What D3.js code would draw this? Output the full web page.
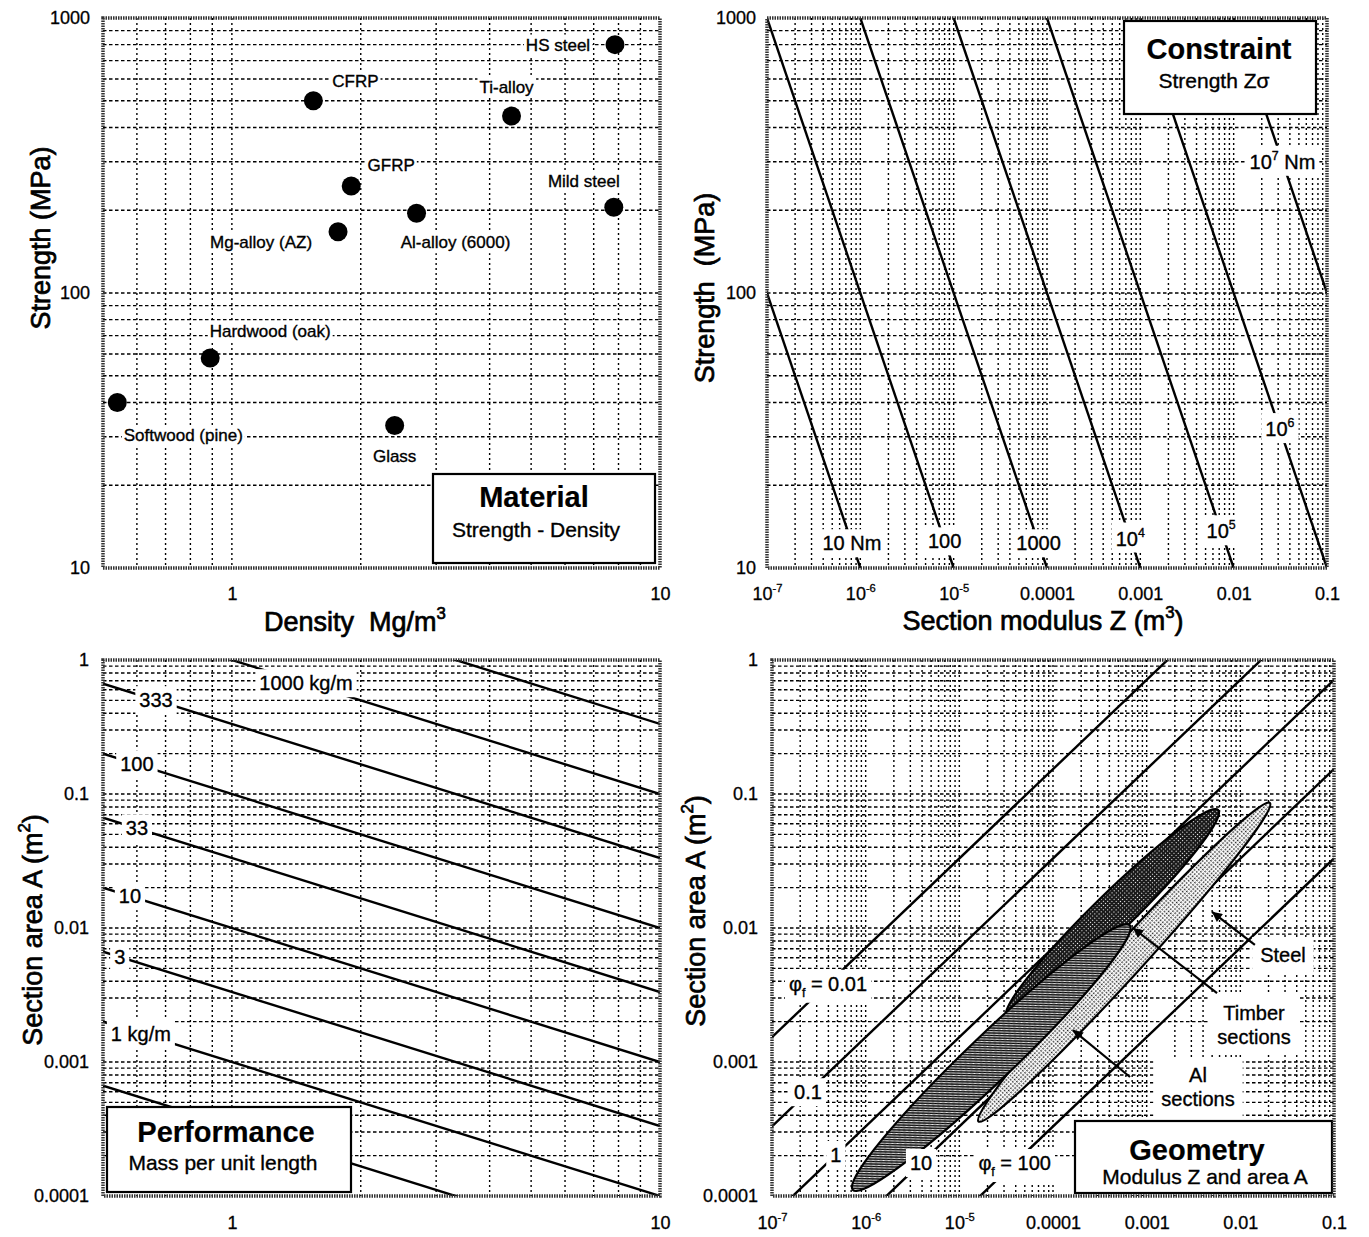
<!DOCTYPE html>
<html>
<head>
<meta charset="utf-8">
<script src="https://cdn.jsdelivr.net/npm/d3@7"></script>
<style>
  body { margin: 0; background: #fff; }
  svg { display: block; }
</style>
</head>
<body>
<svg id="chart" width="1369" height="1237"></svg>
<script>
// ---------- data ----------
// panel 1: material strength vs density
const materials = ["HS steel", "CFRP", "Ti-alloy", "GFRP", "Mild steel", "Al-alloy (6000)",
                   "Mg-alloy (AZ)", "Hardwood (oak)", "Softwood (pine)", "Glass"];
const density = [7.85, 1.55, 4.5, 1.9, 7.8, 2.7, 1.77, 0.89, 0.54, 2.4];     // Mg/m3
const strength = [800, 500, 440, 245, 205, 195, 167, 58, 40, 33];            // MPa

// panel 2: constant bending moment lines M = Z * sigma
const momentVals = [10, 100, 1000, 1e4, 1e5, 1e6, 1e7];                      // Nm
const momentLabels = ["10 Nm", "100", "1000", "10^{4}", "10^{5}", "10^{6}", "10^{7} Nm"];
const momentLabelStrength = [12.3, 12.5, 12.3, 12.8, 13.6, 32, 300];         // where label sits

// panel 3: mass per unit length m = A * rho
const massVals = [0.333, 1, 3.33, 10, 33.3, 100, 333, 1000, 3333];           // kg/m
const massLabels = [null, "1 kg/m", "3", "10", "33", "100", "333", "1000 kg/m", null];
const massLabelDensity = [null, 0.613, 0.547, 0.578, 0.6, 0.6, 0.665, 1.49, null];

// panel 4: shape factor lines and section families
const shapeVals = [0.01, 0.1, 1, 10, 100];
const shapeLabels = ["φ_{f} = 0.01", "0.1", "1", "10", "φ_{f} = 100"];
const shapeLabelZ = [3.96e-7, 2.42e-7, 4.8e-7, 3.9e-6, 3.9e-5];

const regionNames = ["Steel", "Timber sections", "Al sections"];
const regionZ = [[1.6e-5, 0.0207], [3.2e-5, 5.8e-3], [7.3e-7, 6.6e-4]];
const regionA = [[3.6e-4, 0.0857], [2.17e-3, 0.076], [1.11e-4, 0.0105]];
const regionThickness = [0.075, 0.13, 0.12];   // minor / major axis
const regionLabelZ = [0.0285, 0.014, 3.53e-3];
const regionLabelA = [6.29e-3, 1.89e-3, 6.5e-4];
const arrowFromZ = [0.0143, 5.64e-3, 6.64e-4];
const arrowFromA = [7.47e-3, 3.27e-3, 7.73e-4];
const arrowToZ = [4.98e-3, 7.15e-4, 1.63e-4];
const arrowToA = [0.0132, 0.01, 1.73e-3];

// ticks
const densityTicks = [1, 10];
const densityTickLabels = ["1", "10"];
const strengthTicks = [10, 100, 1000];
const strengthTickLabels = ["10", "100", "1000"];
const modulusTicks = [1e-7, 1e-6, 1e-5, 1e-4, 1e-3, 1e-2, 1e-1];
const modulusTickLabels = ["10^{-7}", "10^{-6}", "10^{-5}", "0.0001", "0.001", "0.01", "0.1"];
const areaTicks = [1e-4, 1e-3, 1e-2, 0.1, 1];
const areaTickLabels = ["0.0001", "0.001", "0.01", "0.1", "1"];

// ---------- setup ----------
const FONT = "'Liberation Sans', Arial, Helvetica, sans-serif";
const svg = d3.select("#chart").attr("font-family", FONT);
const defs = svg.append("defs");

// fills for the section families
const pSteel = defs.append("pattern").attr("id", "pSteel").attr("width", 3).attr("height", 3)
  .attr("patternUnits", "userSpaceOnUse");
pSteel.append("rect").attr("width", 3).attr("height", 3).attr("fill", "#fff");
pSteel.append("rect").attr("width", 1.5).attr("height", 1.5).attr("fill", "#222");
const pTimber = defs.append("pattern").attr("id", "pTimber").attr("width", 3).attr("height", 3)
  .attr("patternUnits", "userSpaceOnUse");
pTimber.append("rect").attr("width", 3).attr("height", 3).attr("fill", "#1a1a1a");
pTimber.append("rect").attr("x", 1).attr("y", 1).attr("width", 1).attr("height", 1).attr("fill", "#fff");
const pAl = defs.append("pattern").attr("id", "pAl").attr("width", 3.5).attr("height", 3.5)
  .attr("patternUnits", "userSpaceOnUse");
pAl.append("rect").attr("width", 3.5).attr("height", 3.5).attr("fill", "#fff");
pAl.append("path").attr("d", "M-1,-1L4.5,4.5M-1,2.5L1,4.5M2.5,-1L4.5,1").attr("stroke", "#000").attr("stroke-width", 1.5);
const regionFill = ["url(#pSteel)", "url(#pTimber)", "url(#pAl)"];

defs.append("marker").attr("id", "arrow").attr("viewBox", "0 0 10 10")
  .attr("refX", 10).attr("refY", 5).attr("markerWidth", 15).attr("markerHeight", 10)
  .attr("markerUnits", "userSpaceOnUse").attr("orient", "auto")
  .append("path").attr("d", "M0,0L10,5L0,10z").attr("fill", "#000");

// text with ^{sup} and _{sub}
function rich(sel, str, size) {
  sel.text(null);
  let off = 0;
  str.split(/(\^\{[^}]*\}|_\{[^}]*\})/).filter(s => s).forEach(s => {
    let t = s, target = 0, small = false;
    if (s[0] === "^") { t = s.slice(2, -1); target = -0.45 * size; small = true; }
    else if (s[0] === "_") { t = s.slice(2, -1); target = 0.3 * size; small = true; }
    const ts = sel.append("tspan").text(t);
    if (target - off !== 0) ts.attr("dy", target - off);
    if (small) ts.attr("font-size", 0.62 * size);
    off = target;
  });
}

// ink weight, the scanned text is heavier than a clean font
function ink(sel, w) {
  return sel.attr("fill", "#000").attr("stroke", "#000").attr("stroke-width", w);
}

// centred label, optionally with a white patch behind it
function tag(parent, x, y, lines, size, opt = {}) {
  lines = [].concat(lines);
  const g = parent.append("g");
  const lh = opt.lh || size * 1.2;
  const y0 = y - (lines.length - 1) * lh / 2;
  lines.forEach((s, k) => {
    const t = g.append("text")
      .attr("x", x).attr("y", y0 + k * lh + 0.35 * size)
      .attr("text-anchor", "middle")
      .attr("font-size", size)
      .attr("font-weight", opt.bold ? "bold" : null);
    ink(t, opt.bold ? 0.2 : 0.35);
    rich(t, s, size);
  });
  if (opt.bg !== false) {
    const b = g.node().getBBox(), p = opt.pad == null ? 3 : opt.pad;
    g.insert("rect", ":first-child")
      .attr("x", b.x - p).attr("y", b.y - p + 1)
      .attr("width", b.width + 2 * p).attr("height", b.height + 2 * p - 2)
      .attr("fill", "#fff");
  }
  return g;
}

function box(parent, x0, y0, x1, y1, title, sub, tx, ty, sx, sy) {
  parent.append("rect").attr("x", x0).attr("y", y0).attr("width", x1 - x0).attr("height", y1 - y0)
    .attr("fill", "#fff").attr("stroke", "#000").attr("stroke-width", 2.2);
  tag(parent, tx, ty, title, 29, { bold: true, bg: false });
  tag(parent, sx, sy, sub, 21, { bg: false });
}

let clipN = 0;
function panel(b, xDomain, yDomain) {
  const x = d3.scaleLog().domain(xDomain).range([b.x0, b.x1]);
  const y = d3.scaleLog().domain(yDomain).range([b.y1, b.y0]);
  const g = svg.append("g");
  const id = "clip" + (clipN++);
  defs.append("clipPath").attr("id", id).append("rect")
    .attr("x", b.x0).attr("y", b.y0).attr("width", b.x1 - b.x0).attr("height", b.y1 - b.y0);

  const grid = g.append("g").attr("stroke", "#000").attr("stroke-width", 1.4);
  grid.selectAll("line.v")
    .data(x.ticks().filter(d => x(d) > b.x0 + 2 && x(d) < b.x1 - 2))
    .join("line").attr("class", "v")
    .attr("x1", d => x(d)).attr("x2", d => x(d))
    .attr("y1", b.y0).attr("y2", b.y1)
    .attr("stroke-dasharray", "2,3");
  grid.selectAll("line.h")
    .data(y.ticks().filter(d => y(d) > b.y0 + 2 && y(d) < b.y1 - 2))
    .join("line").attr("class", "h")
    .attr("x1", b.x0).attr("x2", b.x1)
    .attr("y1", d => y(d)).attr("y2", d => y(d))
    .attr("stroke-dasharray", "3.5,2.5");

  const plot = g.append("g").attr("clip-path", `url(#${id})`);
  return { x, y, g, b, plot };
}

function frame(p) {
  p.g.append("rect").attr("x", p.b.x0).attr("y", p.b.y0)
    .attr("width", p.b.x1 - p.b.x0).attr("height", p.b.y1 - p.b.y0)
    .attr("fill", "none").attr("stroke", "#333").attr("stroke-width", 3.5)
    .attr("stroke-dasharray", "1.5,1");
}

function axes(p, xv, xl, xpad, yv, yl, ypad) {
  const size = 18;
  const gx = p.g.append("g").attr("transform", `translate(0,${p.b.y1})`)
    .call(d3.axisBottom(p.x).tickValues(xv).tickSize(0).tickPadding(xpad).tickFormat(() => ""));
  gx.select(".domain").remove();
  ink(gx.selectAll(".tick text").attr("font-size", size).attr("font-family", FONT), 0.3)
    .each(function (d, i) { rich(d3.select(this), xl[i], size); });
  const gy = p.g.append("g").attr("transform", `translate(${p.b.x0},0)`)
    .call(d3.axisLeft(p.y).tickValues(yv).tickSize(0).tickPadding(ypad).tickFormat(() => ""));
  gy.select(".domain").remove();
  ink(gy.selectAll(".tick text").attr("font-size", size).attr("font-family", FONT), 0.3)
    .each(function (d, i) { rich(d3.select(this), yl[i], size); });
}

function yTitle(x, y, str) {
  const t = svg.append("text").attr("transform", `translate(${x},${y}) rotate(-90)`)
    .attr("text-anchor", "middle").attr("font-size", 27);
  ink(t, 0.7);
  rich(t, str, 27);
}
function xTitle(x, y, str) {
  const t = svg.append("text").attr("x", x).attr("y", y)
    .attr("text-anchor", "middle").attr("font-size", 27);
  ink(t, 0.7);
  rich(t, str, 27);
}

const line = d3.line();

// ---------- panel 1: Material ----------
const p1 = panel({ x0: 103, x1: 660, y0: 18, y1: 568 }, [0.5, 10], [10, 1000]);
const pointLabelDx = [-57, 42, -5, 40, -30, 39, -77, 60, 66, 0];
const pointLabelDy = [0, -20, -29, -21, -26, 29, 10, -27, 33, 31];
materials.forEach((m, i) => {
  tag(p1.plot, p1.x(density[i]) + pointLabelDx[i], p1.y(strength[i]) + pointLabelDy[i], m, 17, { pad: 2 });
});
p1.plot.selectAll("circle.pt").data(materials).join("circle").attr("class", "pt")
  .attr("cx", (d, i) => p1.x(density[i])).attr("cy", (d, i) => p1.y(strength[i]))
  .attr("r", 9.5).attr("fill", "#000");
box(p1.g, 433, 474, 655, 563, "Material", "Strength - Density", 534, 497, 536, 530);
frame(p1);
axes(p1, densityTicks, densityTickLabels, 19, strengthTicks, strengthTickLabels, 13);
yTitle(50, 238, "Strength (MPa)");
xTitle(355, 631, "Density\u00a0 Mg/m^{3}");

// ---------- panel 2: Constraint ----------
const p2 = panel({ x0: 767, x1: 1327, y0: 18, y1: 568 }, [1e-7, 0.1], [10, 1000]);
const sRange = p2.y.domain();
p2.plot.selectAll("path.m").data(momentVals).join("path").attr("class", "m")
  .attr("d", M => line(sRange.map(s => [p2.x(M / (s * 1e6)), p2.y(s)])))
  .attr("fill", "none").attr("stroke", "#000").attr("stroke-width", 2.4);
momentVals.forEach((M, i) => {
  const s = momentLabelStrength[i];
  tag(p2.plot, p2.x(M / (s * 1e6)), p2.y(s), momentLabels[i], 20, { pad: 4 });
});
box(p2.g, 1124, 21, 1316, 114, "Constraint", "Strength Zσ", 1219, 49, 1214, 81);
frame(p2);
axes(p2, modulusTicks, modulusTickLabels, 19, strengthTicks, strengthTickLabels, 11);
yTitle(714, 288, "Strength\u00a0 (MPa)");
xTitle(1043, 630, "Section modulus Z (m^{3})");

// ---------- panel 3: Performance ----------
const p3 = panel({ x0: 103, x1: 660, y0: 660, y1: 1196 }, [0.5, 10], [1e-4, 1]);
const rRange = p3.x.domain();
p3.plot.selectAll("path.m").data(massVals).join("path").attr("class", "m")
  .attr("d", m => line(rRange.map(r => [p3.x(r), p3.y(m / (1000 * r))])))
  .attr("fill", "none").attr("stroke", "#000").attr("stroke-width", 2.4);
massVals.forEach((m, i) => {
  if (!massLabels[i]) return;
  const r = massLabelDensity[i];
  tag(p3.plot, p3.x(r), p3.y(m / (1000 * r)), massLabels[i], 20, { pad: 4 });
});
box(p3.g, 107, 1107, 351, 1192, "Performance", "Mass per unit length", 226, 1132, 223, 1163);
frame(p3);
axes(p3, densityTicks, densityTickLabels, 20, areaTicks, areaTickLabels, 14);
yTitle(42, 930, "Section area A (m^{2})");

// ---------- panel 4: Geometry ----------
const p4 = panel({ x0: 772, x1: 1334, y0: 660, y1: 1196 }, [1e-7, 0.1], [1e-4, 1]);
const zRange = p4.x.domain();
p4.plot.selectAll("path.phi").data(shapeVals).join("path").attr("class", "phi")
  .attr("d", f => line(zRange.map(z => [p4.x(z), p4.y(Math.pow(6 * z / f, 2 / 3))])))
  .attr("fill", "none").attr("stroke", "#000").attr("stroke-width", 2.4);
regionNames.forEach((n, i) => {
  const xa = p4.x(regionZ[i][0]), ya = p4.y(regionA[i][0]);
  const xb = p4.x(regionZ[i][1]), yb = p4.y(regionA[i][1]);
  const cx = (xa + xb) / 2, cy = (ya + yb) / 2;
  const rx = Math.hypot(xb - xa, yb - ya) / 2;
  const ang = Math.atan2(yb - ya, xb - xa) * 180 / Math.PI;
  p4.plot.append("ellipse").attr("cx", cx).attr("cy", cy)
    .attr("rx", rx).attr("ry", rx * regionThickness[i])
    .attr("transform", `rotate(${ang},${cx},${cy})`)
    .attr("fill", regionFill[i]).attr("stroke", "#000").attr("stroke-width", 2.2);
});
shapeVals.forEach((f, i) => {
  const z = shapeLabelZ[i];
  tag(p4.plot, p4.x(z), p4.y(Math.pow(6 * z / f, 2 / 3)), shapeLabels[i], 20, { pad: 4 });
});
regionNames.forEach((n, i) => {
  tag(p4.plot, p4.x(regionLabelZ[i]), p4.y(regionLabelA[i]), n.split(" "), 20, { pad: 8, lh: 24 });
  p4.plot.append("line")
    .attr("x1", p4.x(arrowFromZ[i])).attr("y1", p4.y(arrowFromA[i]))
    .attr("x2", p4.x(arrowToZ[i])).attr("y2", p4.y(arrowToA[i]))
    .attr("stroke", "#000").attr("stroke-width", 2.2).attr("marker-end", "url(#arrow)");
});
box(p4.g, 1075, 1121, 1332, 1193, "Geometry", "Modulus Z and area A", 1197, 1150, 1205, 1177);
frame(p4);
axes(p4, modulusTicks, modulusTickLabels, 20, areaTicks, areaTickLabels, 14);
yTitle(705, 911, "Section area A (m^{2})");
</script>
</body>
</html>
